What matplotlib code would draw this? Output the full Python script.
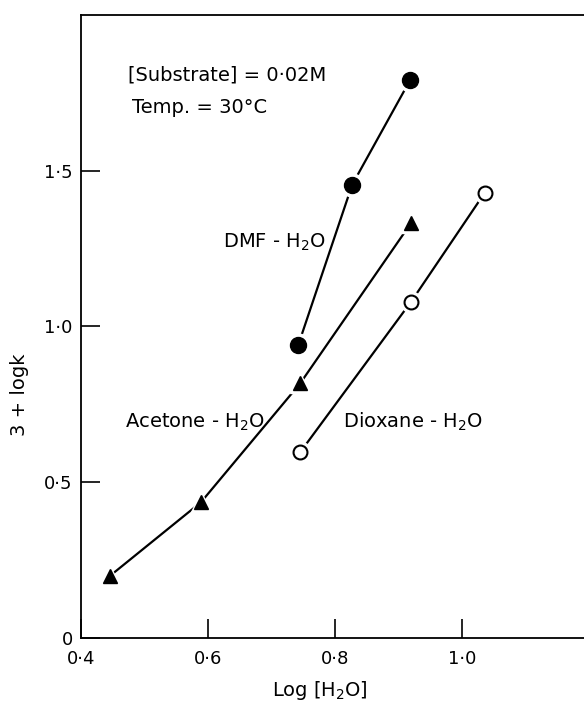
import matplotlib
matplotlib.use('Agg')
import matplotlib.pyplot as plt

plt.rcParams['font.family'] = ['DejaVu Sans']
plt.rcParams['mathtext.default'] = 'regular'

dmf_x = [0.742, 0.827, 0.918]
dmf_y = [0.94, 1.455, 1.79]
acetone_x = [0.446, 0.589, 0.745, 0.920]
acetone_y = [0.20, 0.436, 0.817, 1.333]
dioxane_x = [0.745, 0.920, 1.036]
dioxane_y = [0.596, 1.08, 1.43]

xticks = [0.4, 0.6, 0.8, 1.0]
xticklabels = ['0·4', '0·6', '0·8', '1·0']
yticks = [0, 0.5, 1.0, 1.5]
yticklabels = ['0', '0·5', '1·0', '1·5']

fig = plt.figure(figsize=(5.84, 7.08), dpi=100)
ax = fig.add_axes([0.1387, 0.0989, 0.870, 0.880])

def series(x, y, marker, ms, filled):
    ax.plot(x, y, '-', c='k', lw=1.6, zorder=1)
    # white halo gives the small gap between line and marker
    ax.plot(x, y, ls='none', marker=marker, ms=ms + 5, mfc='white', mec='white', zorder=2)
    if filled:
        ax.plot(x, y, ls='none', marker=marker, ms=ms, mfc='k', mec='k', zorder=3)
    else:
        ax.plot(x, y, ls='none', marker=marker, ms=ms, mfc='white', mec='k', mew=1.5, zorder=3)

series(dmf_x, dmf_y, 'o', 11.5, True)
series(acetone_x, acetone_y, '^', 10, True)
series(dioxane_x, dioxane_y, 'o', 10, False)

ax.set_xlim(0.4, 1.2)
ax.set_ylim(0, 2.0)
ax.set_xticks(xticks)
ax.set_xticklabels(xticklabels)
ax.set_yticks(yticks)
ax.set_yticklabels(yticklabels)
ax.tick_params(direction='in', length=14, width=1.2, labelsize=13)
ax.tick_params(axis='x', pad=9)
ax.tick_params(axis='y', pad=6)
ax.spines['right'].set_visible(False)
for s in ['left', 'bottom', 'top']:
    ax.spines[s].set_linewidth(1.3)

ax.set_xlabel(r'Log [H$_2$O]', size=14)
ax.xaxis.set_label_coords(0.47, -0.066)
ax.set_ylabel('3 + logk', size=14)
ax.yaxis.set_label_coords(-0.102, 0.39)

ax.text(0.474, 1.79, '[Substrate] = 0·02M', size=14)
ax.text(0.480, 1.686, 'Temp. = 30°C', size=14)
ax.text(0.624, 1.253, r'DMF - H$_2$O', size=14)
ax.text(0.469, 0.676, r'Acetone - H$_2$O', size=14)
ax.text(0.813, 0.676, r'Dioxane - H$_2$O', size=14)

plt.savefig('out.png')
